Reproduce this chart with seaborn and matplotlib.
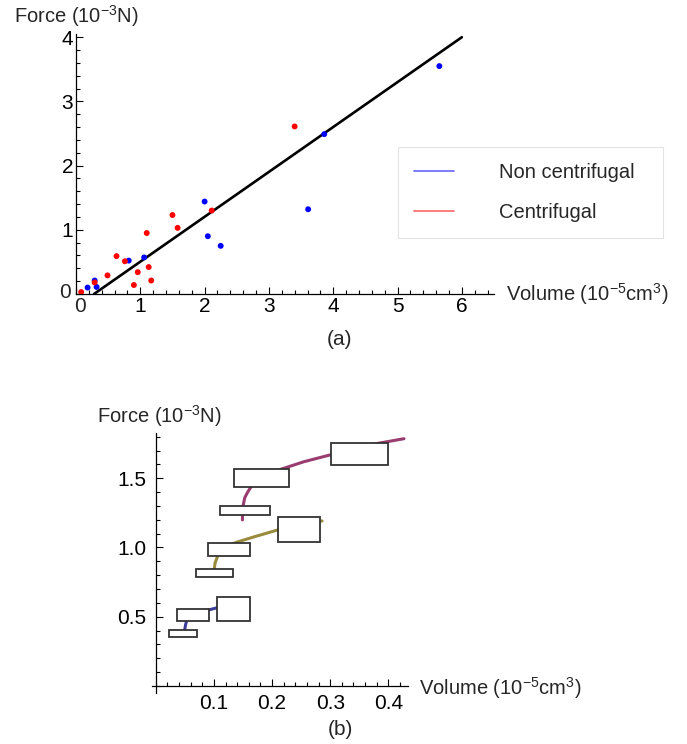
import numpy as np
import pandas as pd
import matplotlib
matplotlib.use('Agg')
import matplotlib.pyplot as plt
from matplotlib.lines import Line2D
from matplotlib.patches import Rectangle
from matplotlib.ticker import MultipleLocator
import seaborn as sns

#----------------------------------------------------
# (a) force vs bubble volume (volume 1e-5 cm^3, force 1e-3 N)
non_cen_vol = [0.18, 0.29, 0.32, 0.82, 1.06, 2.00, 2.05, 2.25, 3.61, 3.86, 5.65]
non_cen_force = [0.10, 0.21, 0.11, 0.52, 0.57, 1.44, 0.90, 0.75, 1.32, 2.49, 3.55]
cen_vol = [0.08, 0.29, 0.49, 0.63, 0.76, 0.90, 0.96, 1.10, 1.13, 1.17, 1.50, 1.58, 2.11, 3.40]
cen_force = [0.03, 0.18, 0.29, 0.59, 0.51, 0.14, 0.34, 0.95, 0.42, 0.21, 1.23, 1.03, 1.30, 2.61]
fit_vol = [0.28, 6.0]
fit_force = [0.0, 4.0]
groups = ['Non centrifugal', 'Centrifugal']
a_xticks = [0, 1, 2, 3, 4, 5, 6]
a_yticks = [0, 1, 2, 3, 4]

# (b) boxes and curves
box_vol_lo = [0.0225, 0.037, 0.106, 0.0685, 0.090, 0.2096, 0.110, 0.134, 0.301]
box_vol_hi = [0.070, 0.092, 0.162, 0.132, 0.162, 0.283, 0.197, 0.2286, 0.400]
box_force_lo = [0.355, 0.471, 0.471, 0.789, 0.939, 1.042, 1.233, 1.440, 1.596]
box_force_hi = [0.401, 0.557, 0.640, 0.843, 1.035, 1.223, 1.299, 1.565, 1.753]

curve1_vol = [0.049, 0.0495, 0.051, 0.053, 0.057, 0.065, 0.078, 0.092, 0.106, 0.118]
curve1_force = [0.37, 0.40, 0.44, 0.47, 0.50, 0.52, 0.537, 0.550, 0.565, 0.575]
curve2_vol = [0.100, 0.1005, 0.102, 0.106, 0.110, 0.120, 0.139, 0.170, 0.209, 0.250, 0.286]
curve2_force = [0.80, 0.845, 0.89, 0.934, 0.96, 1.005, 1.038, 1.078, 1.126, 1.162, 1.192]
curve3_vol = [0.149, 0.149, 0.150, 0.153, 0.158, 0.164, 0.178, 0.195, 0.215, 0.255, 0.301, 0.340, 0.383, 0.427]
curve3_force = [1.199, 1.25, 1.30, 1.36, 1.40, 1.44, 1.50, 1.535, 1.565, 1.62, 1.67, 1.715, 1.753, 1.786]
curve_colors = ['#3d3d99', '#998b3d', '#993d71']
b_xticks = [0.1, 0.2, 0.3, 0.4]
b_yticks = [0.5, 1.0, 1.5]

#----------------------------------------------------
W, H = 687, 744


def fpos(x, y):
    return x / W, 1 - y / H


def style_axes(ax, lsize):
    ax.tick_params(which='both', direction='in', width=0.8, labelsize=lsize,
                   colors='black', bottom=True, left=True, top=False, right=False)
    ax.tick_params(which='major', length=5)
    ax.tick_params(which='minor', length=2.8)
    for s in ['top', 'right']:
        ax.spines[s].set_visible(False)
    for s in ['left', 'bottom']:
        ax.spines[s].set_color('black')
        ax.spines[s].set_linewidth(0.9)
    ax.grid(False)
    ax.set_xlabel('')
    ax.set_ylabel('')


def main():
    sns.set_style('white')
    plt.rcParams['font.family'] = ['Liberation Sans', 'DejaVu Sans']
    plt.rcParams['mathtext.fontset'] = 'custom'
    plt.rcParams['mathtext.rm'] = 'Liberation Sans'
    plt.rcParams['mathtext.it'] = 'Liberation Sans:italic'

    fig = plt.figure(figsize=(W / 100, H / 100), dpi=100)

    # ---------------- panel (a)
    ax1 = fig.add_axes([76 / W, 1 - 294 / H, 418 / W, 260 / H])
    df = pd.DataFrame({
        'volume': non_cen_vol + cen_vol,
        'force': non_cen_force + cen_force,
        'group': [groups[0]] * len(non_cen_vol) + [groups[1]] * len(cen_vol),
    })
    sns.scatterplot(data=df, x='volume', y='force', hue='group',
                    palette={groups[0]: '#0000ff', groups[1]: '#ff0000'},
                    s=18, linewidth=0, legend=False, ax=ax1, zorder=3)
    sns.lineplot(x=fit_vol, y=fit_force, color='black', lw=1.9, ax=ax1, zorder=2)
    ax1.set_xlim(0, 6.5)
    ax1.set_ylim(0, 4.05)
    # the origin "0"s are placed by hand below so they do not collide
    ax1.set_xticks(a_xticks)
    ax1.set_xticklabels([''] + [str(v) for v in a_xticks[1:]])
    ax1.set_yticks(a_yticks)
    ax1.set_yticklabels([''] + [str(v) for v in a_yticks[1:]])
    ax1.xaxis.set_minor_locator(MultipleLocator(0.2))
    ax1.yaxis.set_minor_locator(MultipleLocator(0.2))
    style_axes(ax1, 15)
    ax1.tick_params(axis='x', pad=2)
    ax1.tick_params(axis='y', pad=2)
    fig.text(*fpos(80, 297), '0', fontsize=15, ha='center', va='top')
    fig.text(*fpos(71, 292), '0', fontsize=15, ha='right', va='center')

    handles = [Line2D([], [], color='#0000ff', alpha=0.55, lw=1.3),
               Line2D([], [], color='#ff0000', alpha=0.55, lw=1.3)]
    x0, y0 = fpos(398, 238)
    leg = ax1.legend(handles, groups, loc='upper left',
                     bbox_to_anchor=(x0, y0, 265 / W, 91 / H),
                     bbox_transform=fig.transFigure, mode='expand',
                     borderaxespad=0, fontsize=14.5, frameon=True, fancybox=False,
                     handlelength=2.0, handletextpad=2.2, labelspacing=1.05,
                     borderpad=0.8)
    leg.get_frame().set_edgecolor('#dcdcdc')
    leg.get_frame().set_linewidth(0.8)

    fig.text(*fpos(14, 23), 'Force (10$^{-3}$N)', fontsize=14.5, ha='left', va='baseline')
    fig.text(*fpos(506, 301), 'Volume (10$^{-5}$cm$^{3}$)', fontsize=14.5, ha='left', va='baseline')
    fig.text(*fpos(340, 345), '(a)', fontsize=15, ha='center', va='baseline')

    # ---------------- panel (b)
    ax2 = fig.add_axes([151.8 / W, 1 - 692.8 / H, 255.7 / W, 259.5 / H])
    for cx, cy, col in zip([curve1_vol, curve2_vol, curve3_vol],
                           [curve1_force, curve2_force, curve3_force], curve_colors):
        sns.lineplot(x=cx, y=cy, sort=False, estimator=None, color=col, lw=2.2, ax=ax2, zorder=2)
    for a, b, c, d in zip(box_vol_lo, box_vol_hi, box_force_lo, box_force_hi):
        ax2.add_patch(Rectangle((a, c), b - a, d - c, facecolor='white',
                                edgecolor='#333333', lw=1.3, zorder=3))
    ax2.set_xlim(-0.007, 0.433)
    ax2.set_ylim(-0.05, 1.825)
    ax2.spines['left'].set_position(('data', 0))
    ax2.spines['bottom'].set_position(('data', 0))
    ax2.set_xticks(b_xticks)
    ax2.set_xticklabels([f'{v:.1f}' for v in b_xticks])
    ax2.xaxis.set_minor_locator(MultipleLocator(0.02))
    ax2.set_yticks(b_yticks)
    ax2.set_yticklabels([f'{v:.1f}' for v in b_yticks])
    ax2.yaxis.set_minor_locator(MultipleLocator(0.1))
    style_axes(ax2, 15)
    ax2.tick_params(axis='x', pad=6)
    ax2.tick_params(axis='y', pad=7)

    fig.text(*fpos(222, 423), 'Force (10$^{-3}$N)', fontsize=14.5, ha='right', va='baseline')
    fig.text(*fpos(419, 695), 'Volume (10$^{-5}$cm$^{3}$)', fontsize=14.5, ha='left', va='baseline')
    fig.text(*fpos(340, 735), '(b)', fontsize=15, ha='center', va='baseline')

    fig.savefig('out.png', dpi=100)


#----------------------------------------------------
if __name__ == '__main__':
    main()
